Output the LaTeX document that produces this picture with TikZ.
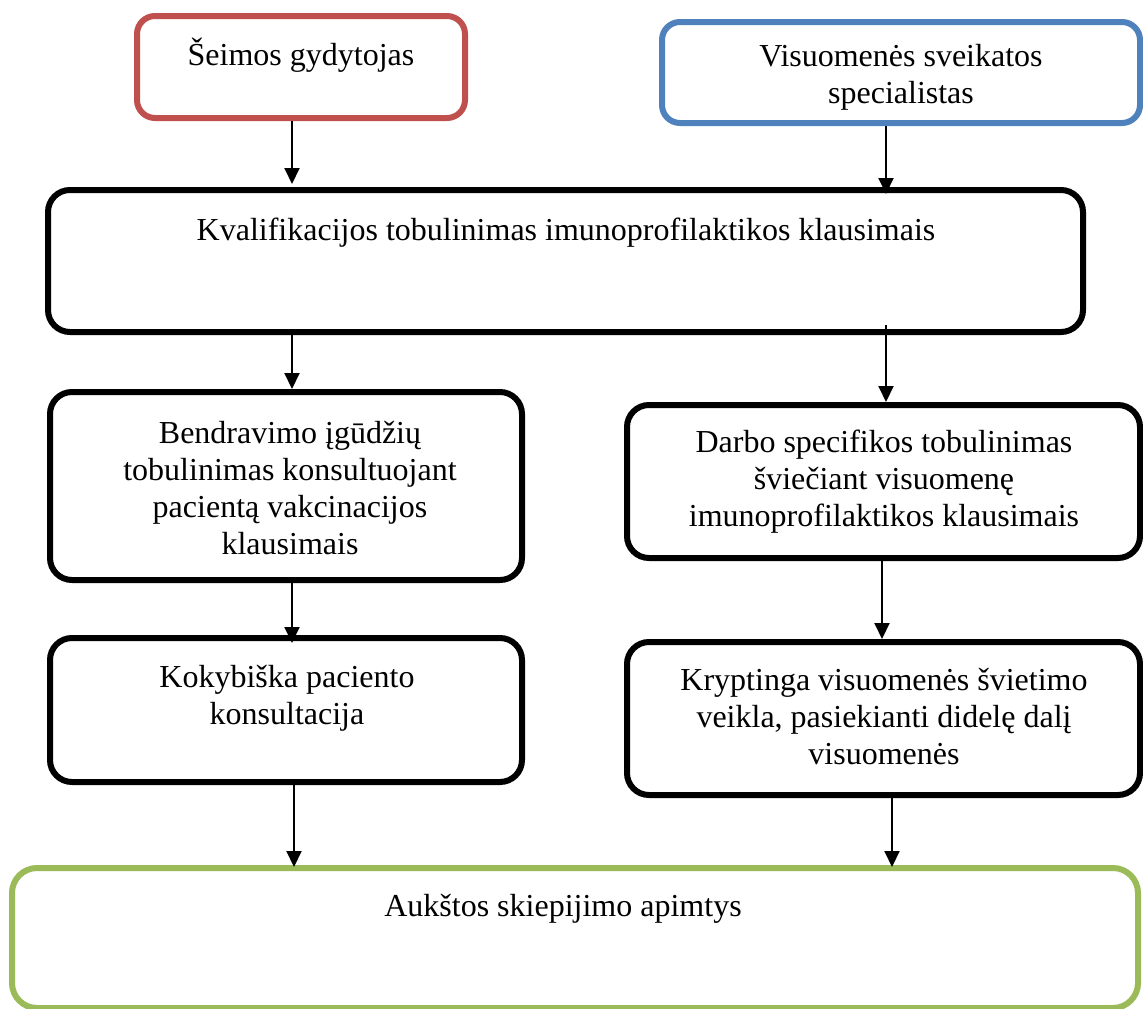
\documentclass[tikz,border=0pt]{standalone}
\usepackage{fontspec}
\setmainfont{Liberation Serif}
\usetikzlibrary{arrows.meta}
\definecolor{boxred}{HTML}{C0504D}
\definecolor{boxblue}{HTML}{4F81BD}
\definecolor{boxgreen}{HTML}{9BBB59}
\tikzset{
  x=1pt, y=-1pt,
  frame/.style={draw=black, line width=6pt, rounded corners=22pt, rectangle, inner sep=0pt, fill=white},
  redframe/.style={frame, draw=boxred, rounded corners=18pt},
  blueframe/.style={frame, draw=boxblue, rounded corners=18pt},
  greenframe/.style={frame, draw=boxgreen, rounded corners=25pt},
  txt/.style={font=\fontsize{32}{36.8}\selectfont, align=center, inner sep=0pt, anchor=north},
  arr/.style={line width=2pt, -{Triangle[length=16pt,width=15pt]}},
}
\newcommand{\fs}{\strut}
\begin{document}
\begin{tikzpicture}
\useasboundingbox (0,0) rectangle (1143,1009);
\fill[white] (0,0) rectangle (1143,1009);
% boxes
\node[redframe, minimum width=328pt, minimum height=102pt] (sg) at (301,67) {};
\node[blueframe, minimum width=478pt, minimum height=101pt] (vs) at (901,72.5) {};
\node[frame, minimum width=1035pt, minimum height=142pt] (kv) at (565.5,261) {};
\node[frame, minimum width=472pt, minimum height=188pt] (bt) at (286,486) {};
\node[frame, minimum width=513pt, minimum height=153pt] (ds) at (883.5,481.5) {};
\node[frame, minimum width=472pt, minimum height=144pt] (kp) at (286,710) {};
\node[frame, minimum width=513pt, minimum height=153pt] (kr) at (883.5,718.5) {};
\node[greenframe, minimum width=1126pt, minimum height=140pt] (as) at (575,938) {};
% texts
\node[txt] (t1) at (301,38) {\fs Šeimos gydytojas};
\node[txt] (t2) at (901,41) {\fs Visuomenės sveikatos\\specialistas};
\node[txt] (t3) at (566,215) {\fs Kvalifikacijos tobulinimas imunoprofilaktikos klausimais};
\node[txt] (t4) at (290,418) {\fs Bendravimo įgūdžių\\tobulinimas konsultuojant\\pacientą vakcinacijos\\klausimais};
\node[txt] (t5) at (884,427) {\fs Darbo specifikos tobulinimas\\šviečiant visuomenę\\imunoprofilaktikos klausimais};
\node[txt] (t6) at (287,662) {\fs Kokybiška paciento\\konsultacija};
\node[txt] (t7) at (884,665) {\fs Kryptinga visuomenės švietimo\\veikla, pasiekianti didelę dalį\\visuomenės};
\node[txt] (t8) at (563,891) {\fs Aukštos skiepijimo apimtys};
% arrow columns
\coordinate (cl) at (292,0);
\coordinate (cr) at (886,0);
% connectors
\draw[arr] (sg.south -| cl) -- ([yshift=3pt]kv.north -| cl);
\draw[arr] (vs.south -| cr) -- ([yshift=-7pt]kv.north -| cr);
\draw[arr] (kv.south -| cl) -- (bt.north -| cl);
\draw[arr] ([yshift=10pt]kv.south -| cr) -- (ds.north -| cr);
\draw[arr] (bt.south -| cl) -- ([yshift=-8pt]kp.north -| cl);
\draw[arr] ([xshift=-4pt]ds.south -| cr) -- ([xshift=-4pt]kr.north -| cr);
\draw[arr] ([xshift=2pt]kp.south -| cl) -- ([xshift=2pt,yshift=-2pt]as.north -| cl);
\draw[arr] ([xshift=6pt]kr.south -| cr) -- ([xshift=6pt,yshift=-2pt]as.north -| cr);
\end{tikzpicture}
\end{document}
